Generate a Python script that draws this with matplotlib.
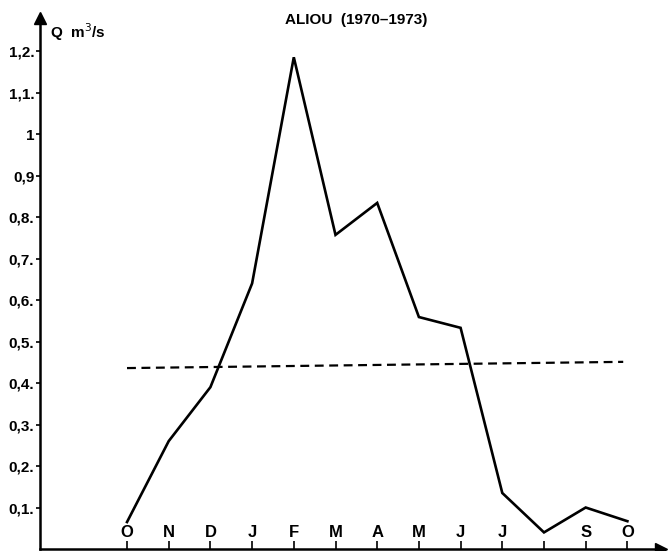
import matplotlib
matplotlib.use('Agg')
import matplotlib.pyplot as plt

# ─── données ──────────────────────────────────────
months = ['O', 'N', 'D', 'J', 'F', 'M', 'A', 'M', 'J', 'J', '', 'S', 'O']
q_mean = [0.065, 0.26, 0.39, 0.64, 1.185, 0.757, 0.834, 0.559, 0.533, 0.135, 0.04, 0.10, 0.067]
module_x = [0, 11.9]
module_q = [0.436, 0.451]
yticks = [0.1, 0.2, 0.3, 0.4, 0.5, 0.6, 0.7, 0.8, 0.9, 1.0, 1.1, 1.2]
ylabels = ['0,1.', '0,2.', '0,3.', '0,4.', '0,5.', '0,6.', '0,7.', '0,8.', '0,9', '1', '1,1.', '1,2.']

FONT = ['Liberation Sans Narrow', 'Liberation Sans', 'DejaVu Sans']
plt.rcParams['font.family'] = FONT

fig = plt.figure(figsize=(6.69, 5.51), dpi=100)
ax = fig.add_axes([0, 0, 1, 1])
ax.set_xlim(-3.046, 12.998)
ax.set_ylim(-0.0048, 1.323)

x0 = -2.09  # position de l'axe vertical
x_end = 12.8
y_top = 1.28

for s in ['top', 'right']:
    ax.spines[s].set_visible(False)
ax.spines['left'].set_position(('data', x0))
ax.spines['bottom'].set_position(('data', 0))
ax.spines['left'].set_bounds(0, y_top)
ax.spines['bottom'].set_bounds(x0, x_end)
for s in ['left', 'bottom']:
    ax.spines[s].set_linewidth(1.8)

# flèches
ax.plot(x0, y_top, '^k', ms=8, clip_on=False)
ax.plot(x_end, 0, '>k', ms=8, clip_on=False)

ax.set_yticks(yticks)
ax.set_yticklabels(ylabels, fontsize=11, fontweight='bold')
ax.tick_params(axis='y', direction='out', length=3, width=1.2, pad=1)

xs = list(range(len(months)))
ax.set_xticks(xs)
ax.set_xticklabels([])
ax.tick_params(axis='x', direction='in', length=6, width=1.2)
for i, m in enumerate(months):
    ax.text(i, 0.022, m, ha='center', va='bottom', fontsize=12, fontweight='bold')

# courbe des débits moyens mensuels
ax.plot(xs, q_mean, color='black', lw=1.9, solid_joinstyle='miter')
# module interannuel
ax.plot(module_x, module_q, color='black', lw=1.6, dashes=(4, 2.5))

ax.text(x0 + 0.25, 1.245, 'Q  m$^3$/s', fontsize=11, fontweight='bold', va='center')
ax.text(5.5, 1.275, 'ALIOU  (1970–1973)', fontsize=11, fontweight='bold', ha='center', va='center')

plt.savefig('out.png', dpi=100)
plt.close()
